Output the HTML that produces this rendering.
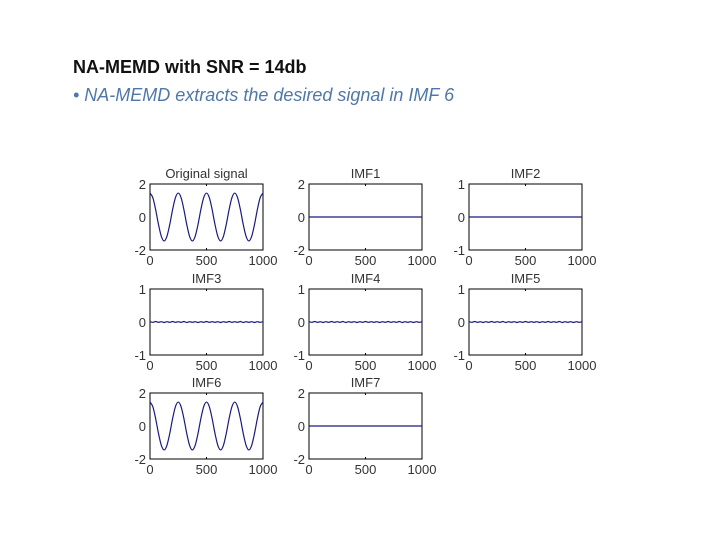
<!DOCTYPE html>
<html><head><meta charset="utf-8"><style>
body{margin:0;background:#fff;}
#wrap{position:relative;width:720px;height:540px;overflow:hidden;font-family:"Liberation Sans",sans-serif;}
.t1{position:absolute;left:73px;top:57px;font-size:18px;font-weight:bold;color:#111;}
.t2{position:absolute;left:73px;top:85px;font-size:18px;font-style:italic;color:#4f77a8;}
</style></head><body>
<div id="wrap">
<div class="t1">NA-MEMD with SNR = 14db</div>
<div class="t2">• NA-MEMD extracts the desired signal in IMF 6</div>
<svg id="chart" width="720" height="540" style="position:absolute;left:0;top:0"></svg>
</div>
<script>
const xTicks=[0,500,1000];
const titles=["Original signal","IMF1","IMF2","IMF3","IMF4","IMF5","IMF6","IMF7"];
const yRanges=[[-2,2],[-2,2],[-1,1],[-1,1],[-1,1],[-1,1],[-2,2],[-2,2]];
const sineVals=[1.45,1.17,0.45,-0.45,-1.17,-1.45,-1.17,-0.45,0.45,1.17,1.45,1.17,0.45,-0.45,-1.17,-1.45,-1.17,-0.45,0.45,1.17,1.45,1.17,0.45,-0.45,-1.17,-1.45,-1.17,-0.45,0.45,1.17,1.45,1.17,0.45,-0.45,-1.17,-1.45,-1.17,-0.45,0.45,1.17,1.45];
const flatVals=[0,0];
const noiseVals=[0.01,-0.01,0.015,-0.01,0.01,-0.015,0.01,-0.01,0.015,-0.01,0.01,-0.01,0.015,-0.015,0.01,-0.01,0.01,-0.015,0.01,-0.01,0.015,-0.01,0.01,-0.01,0.01,-0.015,0.01,-0.01,0.015,-0.01,0.01,-0.01,0.015,-0.015,0.01,-0.01,0.01,-0.015,0.01,-0.01,0.01];
const series=[sineVals,flatVals,flatVals,noiseVals,noiseVals,noiseVals,sineVals,flatVals];
const colX=[150,309,469], rowY=[184,289,393], W=113, H=66;
const svg=document.getElementById('chart');
const NS='http://www.w3.org/2000/svg';
function mk(tag,attrs){const e=document.createElementNS(NS,tag);for(const k in attrs)e.setAttribute(k,attrs[k]);svg.appendChild(e);return e;}
for(let i=0;i<8;i++){
  const x0=colX[i%3], y0=rowY[Math.floor(i/3)];
  const [ymin,ymax]=yRanges[i];
  const sx=v=>x0+v/1000*W;
  const sy=v=>y0+H-(v-ymin)/(ymax-ymin)*H;
  const box=mk('rect',{x:x0,y:y0,width:W,height:H,fill:'#fff',stroke:'#000','stroke-width':1});
  
  
  const t=mk('text',{x:x0+W/2,y:y0-6,'text-anchor':'middle','font-size':13,fill:'#333'});
  t.textContent=titles[i];
  
  
  xTicks.forEach(v=>{
    const l=mk('text',{x:sx(v),y:y0+H+15,'text-anchor':'middle','font-size':13,fill:'#333'});
    l.textContent=v;
    
    
    mk('line',{x1:sx(v),x2:sx(v),y1:y0+H,y2:y0+H-2,stroke:'#000'});
    mk('line',{x1:sx(v),x2:sx(v),y1:y0,y2:y0+2,stroke:'#000'});
  });
  [ymin,0,ymax].forEach(v=>{
    const l=mk('text',{x:x0-4,y:sy(v)+5,'text-anchor':'end','font-size':13,fill:'#333'});
    l.textContent=v;
    
    
  });
  const vals=series[i];
  const pts=vals.map((v,j)=>[sx(j*1000/(vals.length-1)),sy(v)]);
  let d='M'+pts[0][0]+','+pts[0][1];
  for(let j=0;j<pts.length-1;j++){
    const p0=pts[j-1]||pts[j],p1=pts[j],p2=pts[j+1],p3=pts[j+2]||p2;
    d+=' C'+(p1[0]+(p2[0]-p0[0])/6)+','+(p1[1]+(p2[1]-p0[1])/6)+' '+(p2[0]-(p3[0]-p1[0])/6)+','+(p2[1]-(p3[1]-p1[1])/6)+' '+p2[0]+','+p2[1];
  }
  const path=mk('path',{d:d,fill:'none',stroke:'#1a1a80','stroke-width':1.2});
  
  
}
</script>
</body></html>
